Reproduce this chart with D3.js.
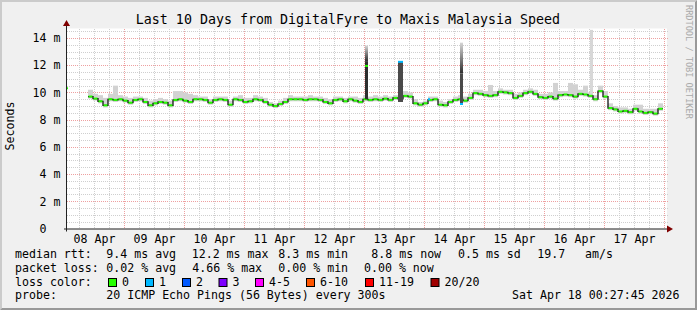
<!DOCTYPE html>
<html>
<head>
<meta charset="utf-8">
<script src="https://cdn.jsdelivr.net/npm/d3@7"></script>
<style>
  body { margin: 0; background: #f0f0f0; }
  svg { display: block; font-family: "DejaVu Sans Mono", monospace; }
</style>
</head>
<body>
<script>
// ---- values ----
var title = "Last 10 Days from DigitalFyre to Maxis Malaysia Speed";
var days = ["2026-04-08", "2026-04-09", "2026-04-10", "2026-04-11", "2026-04-12",
            "2026-04-13", "2026-04-14", "2026-04-15", "2026-04-16", "2026-04-17"];
var yTicks = [0, 2, 4, 6, 8, 10, 12, 14];

// median rtt (ms), one value per 2 hours starting at dataStart
var dataStart = "2026-04-08T09:36:00Z";
var stepMinutes = 120;
var median = [
  9.7, 9.55, 9.35, 9.05, 9.5, 9.45, 9.5, 9.4, 9.25, 9.45,
  9.5, 9.3, 9.05, 9.2, 9.3, 9.25, 9.05, 9.45, 9.5, 9.4,
  9.3, 9.5, 9.5, 9.45, 9.25, 9.45, 9.5, 9.45, 9.1, 9.5,
  9.45, 9.3, 9.35, 9.5, 9.45, 9.3, 9.1, 9.0, 9.15, 9.3,
  9.5, 9.5, 9.5, 9.45, 9.5, 9.5, 9.45, 9.3, 9.2, 9.45,
  9.5, 9.35, 9.5, 9.4, 9.3, 9.5, 9.45, 9.5, 9.45, 9.55,
  9.45, 9.6, 9.55, 9.75, 9.7, 9.2, 9.1, 9.2, 9.45, 9.5,
  9.1, 9.05, 9.3, 9.45, 9.5, 9.4, 9.6, 9.95, 9.9, 9.8,
  9.75, 9.8, 10.05, 10.0, 9.95, 9.6, 9.75, 9.95, 10.05, 9.9,
  9.65, 9.6, 9.7, 9.55, 9.8, 9.85, 9.8, 9.7, 9.9, 9.85,
  9.75, 9.5, 10.1, 9.7, 8.85, 8.75, 8.6, 8.65, 8.55, 8.8,
  8.6, 8.5, 8.55, 8.45, 8.8
];
// smoke: highest and lowest ping of each 2 hour bucket (ms)
var smokeHi = [
  10.2, 9.9, 9.8, 9.6, 9.9, 10.5, 9.8, 9.7, 9.6, 9.7,
  9.7, 9.6, 9.4, 9.5, 9.6, 9.5, 9.4, 10.1, 10.1, 10.0,
  9.9, 9.8, 9.7, 9.7, 9.5, 9.7, 9.7, 9.7, 9.4, 9.7,
  9.8, 9.6, 9.6, 9.8, 9.7, 9.6, 9.3, 9.2, 9.4, 9.6,
  9.8, 9.7, 9.7, 9.7, 9.8, 9.7, 9.7, 9.6, 9.5, 9.7,
  9.7, 9.6, 9.7, 9.7, 9.6, 9.8, 9.7, 9.8, 9.7, 9.8,
  9.7, 9.8, 9.9, 10.1, 10.0, 9.5, 9.3, 9.4, 9.7, 9.7,
  9.4, 9.3, 9.5, 9.7, 9.8, 9.7, 9.9, 10.2, 10.2, 10.1,
  10.55, 10.1, 10.3, 10.2, 10.2, 9.9, 10.0, 10.2, 10.3, 10.2,
  9.9, 9.9, 10.0, 10.7, 10.1, 10.1, 10.7, 10.6, 10.2, 10.5,
  10.0, 9.8, 10.5, 10.1, 9.2, 9.0, 8.9, 8.9, 8.8, 9.1,
  9.1, 8.8, 8.8, 8.8, 9.2
];
var smokeLo = [
  9.55, 9.4, 9.2, 8.9, 9.35, 9.3, 9.35, 9.25, 9.1, 9.3,
  9.35, 9.15, 8.9, 9.05, 9.15, 9.1, 8.9, 9.3, 9.35, 9.25,
  9.15, 9.35, 9.35, 9.3, 9.1, 9.3, 9.35, 9.3, 8.95, 9.35,
  9.3, 9.15, 9.2, 9.35, 9.3, 9.15, 8.95, 8.85, 9.0, 9.15,
  9.35, 9.35, 9.35, 9.3, 9.35, 9.35, 9.3, 9.15, 9.05, 9.3,
  9.35, 9.2, 9.35, 9.25, 9.15, 9.35, 9.3, 9.35, 9.3, 9.4,
  9.3, 9.45, 9.4, 9.6, 9.55, 9.05, 8.95, 9.05, 9.3, 9.35,
  8.95, 8.9, 9.15, 9.3, 9.35, 9.25, 9.45, 9.8, 9.75, 9.65,
  9.6, 9.65, 9.9, 9.85, 9.8, 9.45, 9.6, 9.8, 9.9, 9.75,
  9.5, 9.45, 9.55, 9.4, 9.65, 9.7, 9.65, 9.55, 9.75, 9.7,
  9.6, 9.35, 9.95, 9.55, 8.7, 8.6, 8.45, 8.5, 8.4, 8.65,
  8.45, 8.35, 8.4, 8.3, 8.65
];
// short events: lo / dense / hi smoke and median (ms), loss = lost pings of 20
var spikeTimes  = ["2026-04-08T01:12:00Z", "2026-04-13T00:24:00Z", "2026-04-13T13:36:00Z", "2026-04-14T01:36:00Z", "2026-04-14T14:24:00Z", "2026-04-16T18:24:00Z"];
var spikeMins   = [24, 72, 120, 48, 72, 72];
var spikeLo     = [10.3, 9.5, 9.3, 9.5, 9.2, 9.9];
var spikeDense  = [10.3, 12.3, 12.25, 9.5, 11.4, 9.9];
var spikeHi     = [10.3, 13.45, 12.25, 9.5, 13.66, 14.6];
var spikeMedian = [10.3, 11.95, 12.25, 9.5, 9.15, null];
var spikeLoss   = [0, 0, 1, 1, 1, 0];

var lossLabels = ["0", "1", "2", "3", "4-5", "6-10", "11-19", "20/20"];
var lossColors = ["#26ff00", "#00b8ff", "#0059ff", "#7e00ff", "#ff00ff", "#ff5500", "#ff0000", "#a00000"];
var lossBoxX   = [108, 145, 182, 218.5, 255, 306, 365, 430.5];

var rttText  = ["median rtt:", "9.4 ms avg", "12.2 ms max", "8.3 ms min", "8.8 ms now", "0.5 ms sd", "19.7", "am/s"];
var rttX     = [15, 106.3, 191.7, 278.3, 371.3, 458, 537.3, 585];
var lossText = ["packet loss:", "0.02 % avg", "4.66 % max", "0.00 % min", "0.00 % now"];
var lossX    = [15, 106.3, 192.3, 278.3, 364];
var probeText = ["probe:", "20 ICMP Echo Pings (56 Bytes) every 300s", "Sat Apr 18 00:27:45 2026"];
var probeX    = [15, 106.3, 512];

// ---- layout ----
var W = 697, H = 310;
var plotL = 67, plotR = 667, plotT = 28.5, plotB = 228.5;

var svg = d3.select("body").append("svg")
    .attr("width", W)
    .attr("height", H);

// background + 3d border
svg.append("rect").attr("width", W).attr("height", H).attr("fill", "#f0f0f0");
svg.append("path").attr("d", "M0,0H697L695,2H2V308L0,310Z").attr("fill", "#cbcbcb");
svg.append("path").attr("d", "M697,0V310H0L2,308H695V2Z").attr("fill", "#999999");

var x = d3.scaleUtc()
    .domain([new Date("2026-04-08T01:12:00Z"), new Date("2026-04-18T01:12:00Z")])
    .range([plotL, plotR]);
var y = d3.scaleLinear()
    .domain([0, 14.7])
    .range([plotB, plotT]);

svg.append("rect")
    .attr("x", plotL).attr("y", plotT)
    .attr("width", plotR - plotL).attr("height", plotB - plotT)
    .attr("fill", "#fff");

// grid
var grid = svg.append("g").attr("shape-rendering", "crispEdges");
d3.range(0.5, 14.7, 0.5).forEach(function(v) {
  var yy = Math.round(y(v)) + 0.5;
  grid.append("line")
      .attr("x1", plotL).attr("x2", plotR + 1)
      .attr("y1", yy).attr("y2", yy)
      .attr("stroke", v % 2 === 0 ? "#eea0a0" : "#cfcfcf")
      .attr("stroke-dasharray", "1,1");
});
d3.utcHour.every(6).range(x.domain()[0], x.domain()[1]).forEach(function(t) {
  var xx = Math.round(x(t)) + 0.5;
  if (xx <= plotL + 1) return;
  grid.append("line")
      .attr("x1", xx).attr("x2", xx)
      .attr("y1", plotT).attr("y2", plotB)
      .attr("stroke", t.getUTCHours() === 0 ? "#eea0a0" : "#cfcfcf")
      .attr("stroke-dasharray", "1,1");
});

// smoke
var t0 = new Date(dataStart).getTime();
var step = stepMinutes * 60000;
var buckets = median.map(function(m, i) {
  return { t: new Date(t0 + i * step), t1: new Date(t0 + (i + 1) * step),
           med: m, hi: smokeHi[i], lo: smokeLo[i] };
});

svg.append("g").selectAll("rect")
  .data(buckets)
  .join("rect")
    .attr("x", function(d) { return x(d.t); })
    .attr("width", function(d) { return x(d.t1) - x(d.t); })
    .attr("y", function(d) { return y(d.hi); })
    .attr("height", function(d) { return y(d.lo) - y(d.hi); })
    .attr("fill", "#d2d2d2");

// spikes
var spikes = spikeTimes.map(function(s, i) {
  var t = new Date(s);
  return { t: t, t1: new Date(t.getTime() + spikeMins[i] * 60000),
           lo: spikeLo[i], dense: spikeDense[i], hi: spikeHi[i],
           med: spikeMedian[i], loss: spikeLoss[i] };
});
var defs = svg.append("defs");
var sp = svg.append("g");
spikes.forEach(function(d, i) {
  var x0 = x(d.t), w = x(d.t1) - x(d.t);
  if (d.hi > d.dense) {
    var gid = "sg" + i;
    var dark = d.dense > d.lo ? "#2e2e2e" : "#d8d8d8";
    var g = defs.append("linearGradient").attr("id", gid)
        .attr("gradientUnits", "userSpaceOnUse")
        .attr("x1", 0).attr("x2", 0)
        .attr("y1", y(d.hi)).attr("y2", y(d.dense));
    g.append("stop").attr("offset", 0).attr("stop-color", "#d6d6d6");
    g.append("stop").attr("offset", 1).attr("stop-color", dark);
    sp.append("rect").attr("x", x0).attr("width", w)
        .attr("y", y(d.hi)).attr("height", y(d.dense) - y(d.hi))
        .attr("fill", "url(#" + gid + ")");
  }
  if (d.dense > d.lo) {
    sp.append("rect").attr("x", x0).attr("width", w)
        .attr("y", y(d.dense)).attr("height", y(d.lo) - y(d.dense))
        .attr("fill", d.loss ? "#4a4a4a" : "#2e2e2e");
  }
});

// median line: dark steps, coloured levels
var stepPts = buckets.map(function(d) { return [x(d.t), y(d.med)]; });
stepPts.push([x(buckets[buckets.length - 1].t1), y(buckets[buckets.length - 1].med)]);
svg.append("path")
    .attr("d", d3.line().curve(d3.curveStepAfter)(stepPts))
    .attr("fill", "none")
    .attr("stroke", "#000")
    .attr("stroke-width", 1.2);

svg.append("g").selectAll("line")
  .data(buckets)
  .join("line")
    .attr("x1", function(d) { return x(d.t) + 0.5; })
    .attr("x2", function(d) { return x(d.t1) - 0.5; })
    .attr("y1", function(d) { return y(d.med); })
    .attr("y2", function(d) { return y(d.med); })
    .attr("stroke", lossColors[0])
    .attr("stroke-width", 2);

spikes.filter(function(d) { return d.med !== null; }).forEach(function(d) {
  sp.append("line")
      .attr("x1", x(d.t)).attr("x2", Math.max(x(d.t1), x(d.t) + 1))
      .attr("y1", y(d.med)).attr("y2", y(d.med))
      .attr("stroke", lossColors[d.loss])
      .attr("stroke-width", 2);
});
svg.node().appendChild(sp.node());

// axes lines + arrows
svg.append("line").attr("x1", plotL - 3).attr("x2", plotR + 2)
    .attr("y1", plotB + 0.5).attr("y2", plotB + 0.5).attr("stroke", "#222");
svg.append("line").attr("x1", plotL - 0.5).attr("x2", plotL - 0.5)
    .attr("y1", plotT - 3).attr("y2", plotB + 3).attr("stroke", "#222");
svg.append("path").attr("d", "M667,225.5L673,229L667,232.5Z").attr("fill", "#7f0000");
svg.append("path").attr("d", "M63,26L66.5,20L70,26Z").attr("fill", "#7f0000");

// y axis labels
var yAxis = d3.axisLeft(y)
    .tickValues(yTicks)
    .tickSize(0)
    .tickPadding(0)
    .tickFormat(function(v) { return v === 0 ? "0  " : v + " m"; });
svg.append("g")
    .attr("transform", "translate(60.5,0)")
    .call(yAxis)
    .call(function(g) { g.select(".domain").remove(); })
    .selectAll("text")
      .style("white-space", "pre")
      .attr("font-family", "DejaVu Sans Mono")
      .attr("font-size", 11.6)
      .attr("fill", "#000");

// x axis labels at noon
var xAxis = d3.axisBottom(x)
    .tickValues(days.map(function(s) { return new Date(s + "T12:00:00Z"); }))
    .tickSize(0)
    .tickPadding(6)
    .tickFormat(d3.utcFormat("%d %b"));
svg.append("g")
    .attr("transform", "translate(0," + plotB + ")")
    .call(xAxis)
    .call(function(g) { g.select(".domain").remove(); })
    .selectAll("text")
      .attr("font-family", "DejaVu Sans Mono")
      .attr("font-size", 11.6)
      .attr("fill", "#000");

// title and side texts
svg.append("text")
    .attr("x", 348).attr("y", 24)
    .attr("text-anchor", "middle")
    .attr("font-size", 13.3)
    .text(title);

svg.append("text")
    .attr("transform", "translate(13.5,126) rotate(-90)")
    .attr("text-anchor", "middle")
    .attr("font-size", 11.6)
    .text("Seconds");

svg.append("text")
    .attr("transform", "translate(685.5,5) rotate(90)")
    .attr("font-size", 8.6)
    .attr("fill", "#aaaaaa")
    .text("RRDTOOL / TOBI OETIKER");

// legend
function legendRow(texts, xs, yy) {
  texts.forEach(function(t, i) {
    svg.append("text").attr("x", xs[i]).attr("y", yy)
        .attr("font-size", 11.6).text(t);
  });
}
legendRow(rttText, rttX, 258.3);
legendRow(lossText, lossX, 271.9);
legendRow(probeText, probeX, 299.1);

svg.append("text").attr("x", 15).attr("y", 285.5).attr("font-size", 11.6).text("loss color:");
lossLabels.forEach(function(l, i) {
  svg.append("rect")
      .attr("x", lossBoxX[i] + 0.5).attr("y", 278.5)
      .attr("width", 8).attr("height", 8)
      .attr("fill", lossColors[i])
      .attr("stroke", "#000");
  svg.append("text")
      .attr("x", lossBoxX[i] + 14).attr("y", 285.5)
      .attr("font-size", 11.6)
      .text(l);
});
</script>
</body>
</html>
